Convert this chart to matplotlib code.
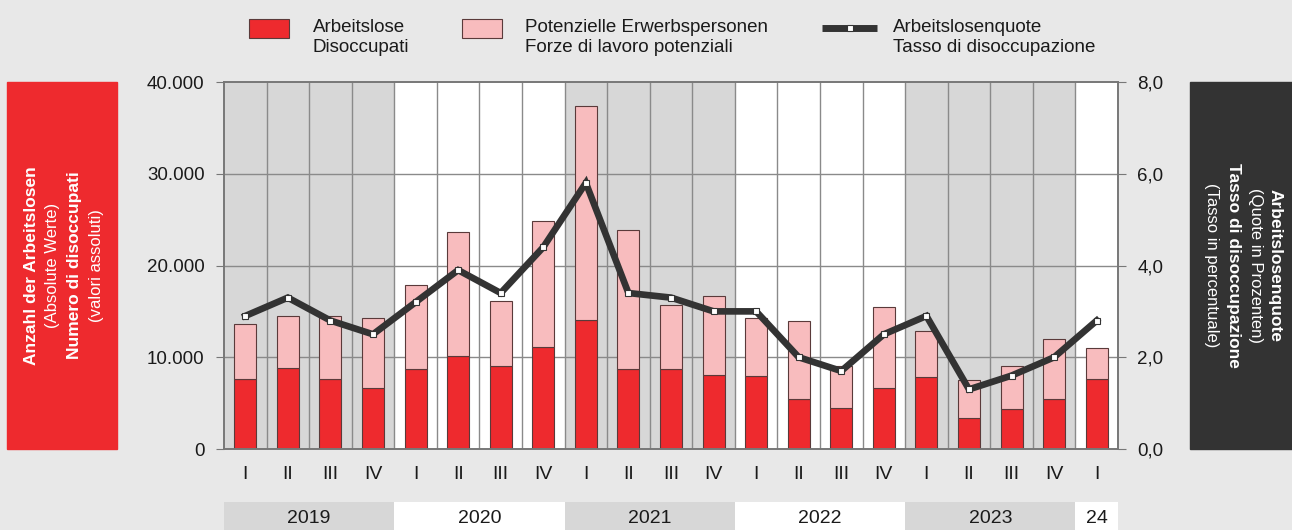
import matplotlib
matplotlib.use("Agg")
import matplotlib.pyplot as plt
from matplotlib.patches import Rectangle
from matplotlib.lines import Line2D

# quarterly data 2019 Q1 - 2024 Q1
quarters = ["I", "II", "III", "IV"] * 5 + ["I"]
years = ["2019", "2020", "2021", "2022", "2023", "24"]
year_len = [4, 4, 4, 4, 4, 1]
year_grey = [True, False, True, False, True, False]

unemployed = [7600, 8800, 7600, 6600, 8700, 10100, 9100, 11100, 14100, 8700, 8700,
              8100, 7950, 5400, 4500, 6700, 7900, 3350, 4400, 5400, 7600]
total = [13600, 14500, 14500, 14300, 17900, 23700, 16100, 24800, 37400, 23900, 15700,
         16700, 14300, 14000, 9000, 15500, 12850, 7500, 9050, 12000, 11000]
potential = [t - u for t, u in zip(total, unemployed)]
rate = [2.9, 3.3, 2.8, 2.5, 3.2, 3.9, 3.4, 4.4, 5.8, 3.4, 3.3,
        3.0, 3.0, 2.0, 1.7, 2.5, 2.9, 1.3, 1.6, 2.0, 2.8]

left_ticks = ["0", "10.000", "20.000", "30.000", "40.000"]
right_ticks = ["0,0", "2,0", "4,0", "6,0", "8,0"]

BG = "#e8e8e8"
GREY = "#d7d7d7"
RED = "#ee2a2e"
PINK = "#f8bcbe"
DARK = "#333333"
EDGE = "#5a3a3a"
TXT = "#1a1a1a"
NARROW = ["Liberation Sans Narrow", "Liberation Sans", "DejaVu Sans"]
SANS = ["Liberation Sans", "DejaVu Sans"]
plt.rcParams["font.family"] = SANS

W, H = 1292, 530
fig = plt.figure(figsize=(W / 100, H / 100), dpi=100, facecolor=BG)

L, R, T, B = 224, 1118, 82, 449
ax = fig.add_axes([L / W, 1 - B / H, (R - L) / W, (B - T) / H])
n = len(total)
x = list(range(n))
ax.set_xlim(-0.5, n - 0.5)
ax.set_ylim(0, 40000)
ax.set_facecolor("white")

# year shading
start = 0
for ylen, g in zip(year_len, year_grey):
    if g:
        ax.axvspan(start - 0.5, start + ylen - 0.5, color=GREY, lw=0, zorder=0)
    start += ylen

for i in range(n - 1):
    ax.axvline(i + 0.5, color="#8a8a8a", lw=1, zorder=1)
for v in [10000, 20000, 30000]:
    ax.axhline(v, color="#8a8a8a", lw=1, zorder=1)

bw = 0.52
ax.bar(x, unemployed, width=bw, color=RED, edgecolor=EDGE, lw=0.8, zorder=2)
ax.bar(x, potential, width=bw, bottom=unemployed, color=PINK, edgecolor=EDGE, lw=0.8, zorder=2)

ax.set_yticks([0, 10000, 20000, 30000, 40000])
ax.set_yticklabels(left_ticks, fontsize=13.5, color=TXT)
ax.set_xticks(x)
ax.set_xticklabels(quarters, fontsize=14, family=NARROW, color=TXT)
ax.tick_params(axis="x", length=0, pad=12)
ax.tick_params(axis="y", length=6, color="#777777", pad=8)
for s in ax.spines.values():
    s.set_color("#777777")
    s.set_linewidth(1.2)

ax2 = ax.twinx()
ax2.set_ylim(0, 8)
ax2.plot(x, rate, color=DARK, lw=4.8, marker="s", ms=4.5, mfc="white", mec=DARK, mew=0.8,
         solid_joinstyle="miter", zorder=5)
ax2.set_yticks([0, 2, 4, 6, 8])
ax2.set_yticklabels(right_ticks, fontsize=13.5, color=TXT)
ax2.tick_params(axis="y", length=6, color="#777777", pad=8)
for s in ax2.spines.values():
    s.set_color("#777777")
    s.set_linewidth(1.2)

# year band under the chart
axy = fig.add_axes([L / W, 0, (R - L) / W, 28 / H])
axy.set_xlim(-0.5, n - 0.5)
axy.set_ylim(0, 1)
axy.axis("off")
start = 0
for yr, ylen, g in zip(years, year_len, year_grey):
    axy.axvspan(start - 0.5, start + ylen - 0.5, color=GREY if g else "white", lw=0)
    axy.text(start + (ylen - 1) / 2, 0.42, yr, ha="center", va="center",
             fontsize=14, family=NARROW, color=TXT)
    start += ylen

# side boxes
fig.patches.append(Rectangle((7 / W, 1 - B / H), 110 / W, (B - T) / H,
                             transform=fig.transFigure, color=RED, zorder=0))
fig.patches.append(Rectangle((1190 / W, 1 - B / H), 102 / W, (B - T) / H,
                             transform=fig.transFigure, color=DARK, zorder=0))
cy = 1 - 265.5 / H
left_lines = [("Anzahl der Arbeitslosen", "bold", 32), ("(Absolute Werte)", "normal", 53),
              ("Numero di disoccupati", "bold", 74), ("(valori assoluti)", "normal", 96)]
for txt, wt, px in left_lines:
    fig.text(px / W, cy, txt, rotation=90, ha="center", va="center", color="white",
             fontsize=12.5 if wt == "bold" else 12, fontweight=wt)
right_lines = [("Arbeitslosenquote", "bold", 1275), ("(Quote in Prozenten)", "normal", 1255),
               ("Tasso di disoccupazione", "bold", 1233), ("(Tasso in percentuale)", "normal", 1211)]
for txt, wt, px in right_lines:
    fig.text(px / W, cy, txt, rotation=270, ha="center", va="center", color="white",
             fontsize=12.5 if wt == "bold" else 12, fontweight=wt)

# legend drawn in figure pixels
def fx(p):
    return p / W

def fy(p):
    return 1 - p / H

fig.patches.append(Rectangle((fx(249), fy(38)), 40 / W, 19 / H, transform=fig.transFigure,
                             facecolor=RED, edgecolor=EDGE, lw=0.8))
fig.patches.append(Rectangle((fx(462), fy(38)), 40 / W, 19 / H, transform=fig.transFigure,
                             facecolor=PINK, edgecolor=EDGE, lw=0.8))
fig.lines.append(Line2D([fx(822), fx(877)], [fy(28), fy(28)], transform=fig.transFigure,
                        color=DARK, lw=5, solid_capstyle="butt"))
fig.lines.append(Line2D([fx(849.5)], [fy(28)], transform=fig.transFigure, marker="s", ms=5,
                        mfc="white", mec=DARK, mew=0.8, lw=0))
for px, l1, l2 in [(313, "Arbeitslose", "Disoccupati"),
                   (525, "Potenzielle Erwerbspersonen", "Forze di lavoro potenziali"),
                   (893, "Arbeitslosenquote", "Tasso di disoccupazione")]:
    fig.text(fx(px), fy(27), l1, ha="left", va="center", fontsize=13.5, family=NARROW, color=TXT)
    fig.text(fx(px), fy(47), l2, ha="left", va="center", fontsize=13.5, family=NARROW, color=TXT)

fig.savefig("out.png", dpi=100, facecolor=BG)
